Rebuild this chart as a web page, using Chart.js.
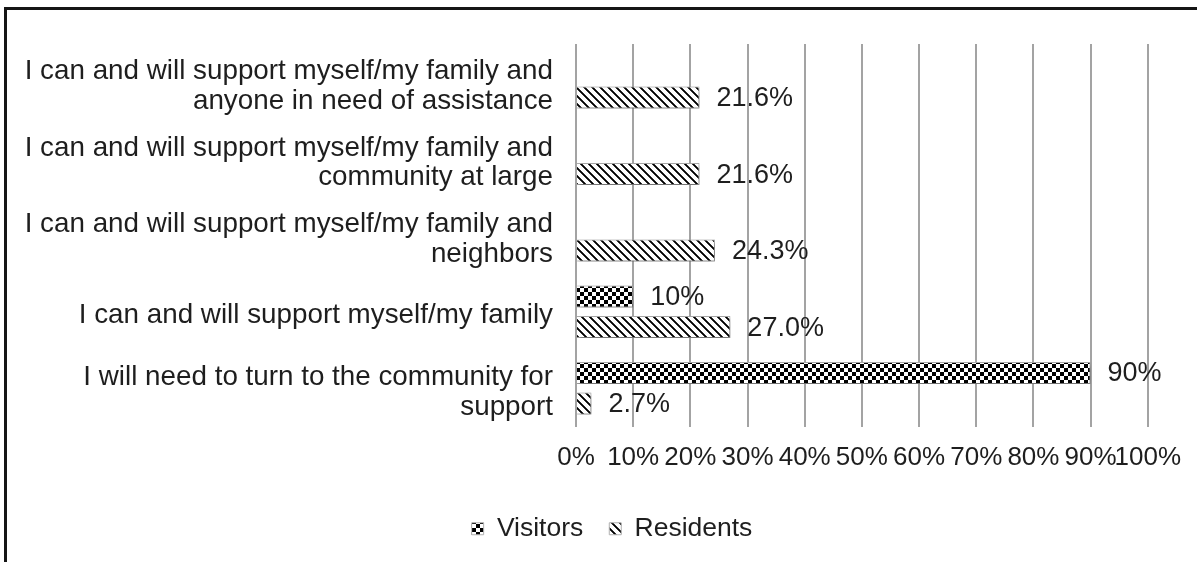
<!DOCTYPE html>
<html>
<head>
<meta charset="utf-8">
<script src="https://cdn.jsdelivr.net/npm/chart.js@4.4.1/dist/chart.umd.min.js"></script>
<style>
  html, body { margin: 0; padding: 0; background: #fff; overflow: hidden; }
  #wrap { position: relative; width: 1197px; height: 562px; overflow: hidden; }
  #frame {
    position: absolute; left: 4px; top: 7px; width: 1300px; height: 700px;
    border-top: 3px solid #151515; border-left: 3px solid #151515;
    pointer-events: none;
  }
  canvas { position: absolute; left: 0; top: 0; }
</style>
</head>
<body>
<div id="wrap">
  <canvas id="chart" width="1197" height="562"></canvas>
  <div id="frame"></div>
</div>
<script>
// Survey answers (one per row of the chart)
const categories = [
  ["I can and will support myself/my family and", "anyone in need of assistance"],
  ["I can and will support myself/my family and", "community at large"],
  ["I can and will support myself/my family and", "neighbors"],
  "I can and will support myself/my family",
  ["I will need to turn to the community for", "support"]
];

// Share of respondents, in percent
const visitors  = [null, null, null, 10, 90];
const residents = [21.6, 21.6, 24.3, 27.0, 2.7];

// Decimals shown on each series' value labels
const visitorDecimals = 0;
const residentDecimals = 1;

// Axis ticks
const xTicks = [0, 10, 20, 30, 40, 50, 60, 70, 80, 90, 100];

const FONT = "'Liberation Sans', Arial, sans-serif";
const TEXT = '#1e1e1e';

// Fill patterns: large checkerboard and wide downward diagonal
function checkerPattern() {
  const c = document.createElement('canvas');
  c.width = 8; c.height = 8;
  const g = c.getContext('2d');
  g.fillStyle = '#fff'; g.fillRect(0, 0, 8, 8);
  g.fillStyle = '#000';
  g.fillRect(0, 0, 4, 4);
  g.fillRect(4, 4, 4, 4);
  return g.createPattern(c, 'repeat');
}
function diagonalPattern() {
  const c = document.createElement('canvas');
  c.width = 8; c.height = 8;
  const g = c.getContext('2d');
  const img = g.createImageData(8, 8);
  for (let y = 0; y < 8; y++) {
    for (let x = 0; x < 8; x++) {
      const d = ((x - y) % 8 + 8) % 8;
      const v = d < 3 ? (d === 1 ? 0 : 50) : 255;
      const i = (y * 8 + x) * 4;
      img.data[i] = img.data[i + 1] = img.data[i + 2] = v;
      img.data[i + 3] = 255;
    }
  }
  g.putImageData(img, 0, 0);
  return g.createPattern(c, 'repeat');
}

// Soft drop shadow behind the bars
const barShadow = {
  id: 'barShadow',
  beforeDatasetsDraw(chart) {
    const ctx = chart.ctx;
    ctx.save();
    ctx.shadowColor = 'rgba(0,0,0,0.45)';
    ctx.shadowBlur = 6;
    ctx.shadowOffsetX = 2;
    ctx.shadowOffsetY = 3;
  },
  afterDatasetsDraw(chart) {
    chart.ctx.restore();
  }
};

// Legend row sits a little right of the canvas centre
const legendShift = {
  id: 'legendShift',
  afterLayout(chart) {
    const lg = chart.legend;
    if (lg) { lg.left += 35; lg.right += 35; }
  }
};

// Value labels at the end of each bar
const valueLabels = {
  id: 'valueLabels',
  afterDraw(chart) {
    const ctx = chart.ctx;
    ctx.save();
    ctx.font = '27px ' + FONT;
    ctx.fillStyle = TEXT;
    ctx.textAlign = 'left';
    ctx.textBaseline = 'middle';
    chart.data.datasets.forEach((ds, di) => {
      const meta = chart.getDatasetMeta(di);
      meta.data.forEach((bar, i) => {
        const v = ds.data[i];
        if (v === null || v === undefined) return;
        ctx.fillText(v.toFixed(ds.decimals) + '%', bar.x + 17, bar.y + 1);
      });
    });
    ctx.restore();
  }
};

new Chart(document.getElementById('chart'), {
  type: 'bar',
  data: {
    labels: categories,
    datasets: [
      {
        label: 'Visitors',
        data: visitors,
        decimals: visitorDecimals,
        backgroundColor: checkerPattern(),
        borderColor: '#b0b0b0',
        borderWidth: 1,
        categoryPercentage: 0.8,
        barPercentage: 0.72
      },
      {
        label: 'Residents',
        data: residents,
        decimals: residentDecimals,
        backgroundColor: diagonalPattern(),
        borderColor: '#b0b0b0',
        borderWidth: 1,
        categoryPercentage: 0.8,
        barPercentage: 0.72
      }
    ]
  },
  options: {
    indexAxis: 'y',
    responsive: false,
    animation: false,
    devicePixelRatio: 1,
    layout: { padding: { top: 44, right: 43, left: 0, bottom: 10 } },
    scales: {
      x: {
        min: 0,
        max: 100,
        afterBuildTicks(scale) {
          scale.ticks = xTicks.map(v => ({ value: v }));
        },
        afterFit(scale) { scale.height = 63; },
        grid: { color: '#a3a3a3', lineWidth: 2, drawTicks: false },
        border: { display: false },
        ticks: {
          autoSkip: false,
          maxRotation: 0,
          padding: 16,
          color: TEXT,
          font: { family: FONT, size: 26 },
          callback: v => v + '%'
        }
      },
      y: {
        afterFit(scale) {
          scale.width = 576;
          scale.paddingTop = 0;
          scale.paddingBottom = 0;
        },
        grid: { display: false, drawTicks: false },
        border: { display: false },
        ticks: {
          padding: 23,
          labelOffset: 4,
          color: TEXT,
          font: { family: FONT, size: 27.8, lineHeight: 1.07 }
        }
      }
    },
    plugins: {
      legend: {
        position: 'bottom',
        labels: {
          boxWidth: 12,
          boxHeight: 12,
          padding: 26,
          color: TEXT,
          font: { family: FONT, size: 26.5 }
        }
      },
      tooltip: { enabled: false }
    }
  },
  plugins: [barShadow, legendShift, valueLabels]
});
</script>
</body>
</html>
